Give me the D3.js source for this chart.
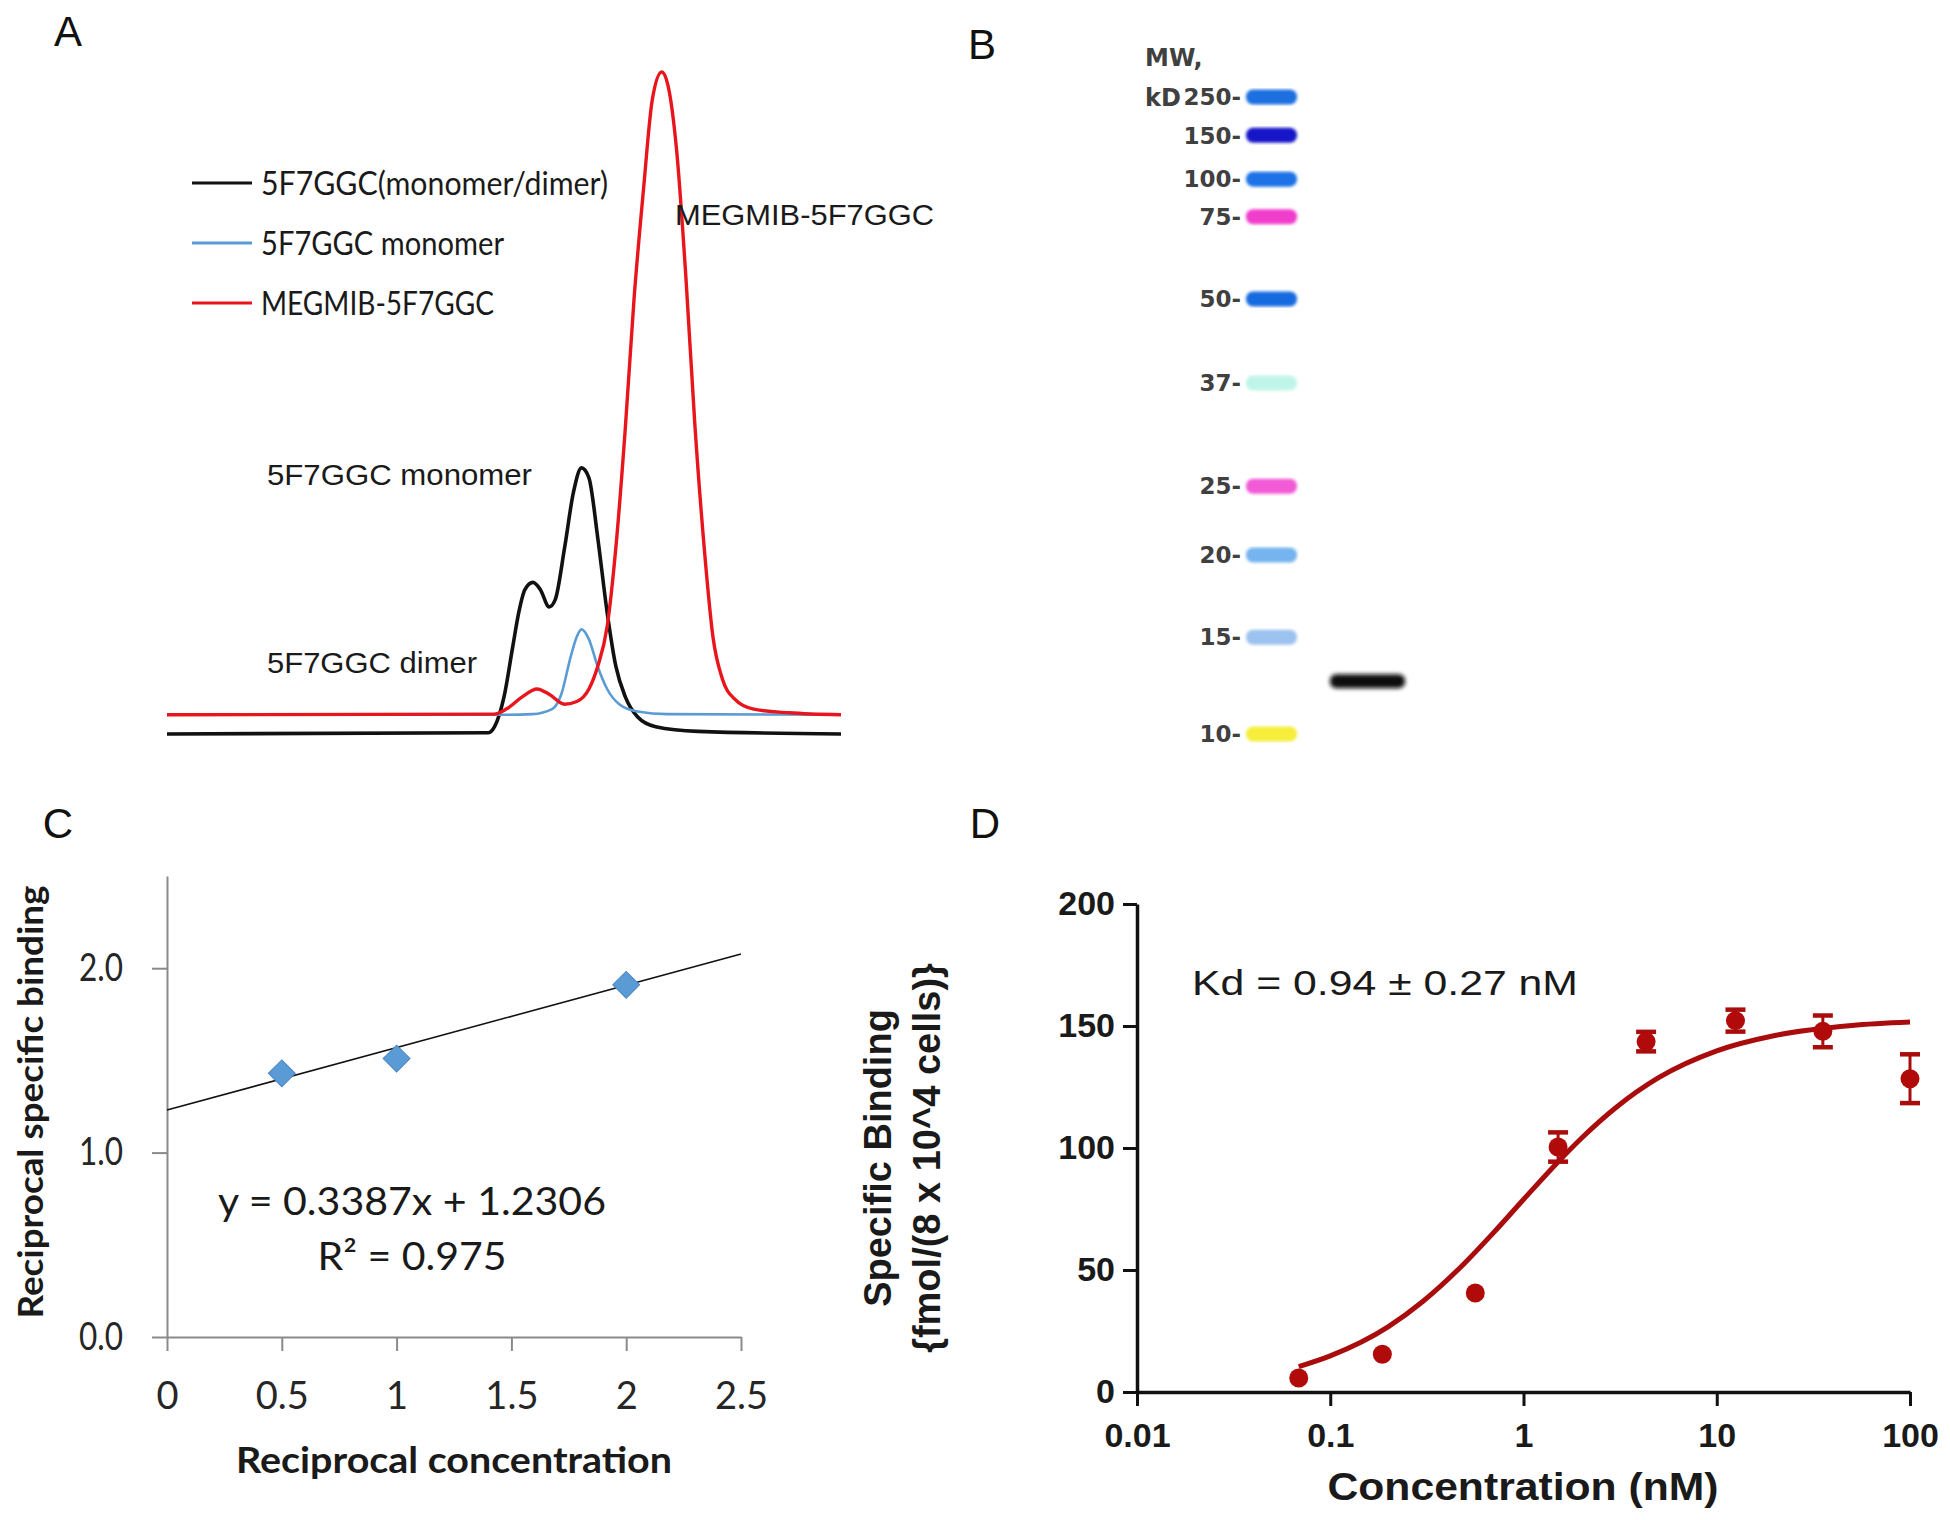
<!DOCTYPE html>
<html><head><meta charset="utf-8">
<script src="https://cdn.jsdelivr.net/npm/d3@7"></script>
<style>body{margin:0;background:#fff} svg{display:block}</style>
</head><body>
<svg id="c" width="1950" height="1520"></svg>
<script>
// ---------- Panel A: chromatogram traces (relative units) ----------
const blackX = [0, 47.7, 48.6, 50.0, 51.3, 52.2, 53.1, 54.3, 55.4, 56.7, 57.6, 59.0, 60.3, 61.5, 62.6, 63.9, 65.3, 66.6, 68.0, 69.8, 72.5, 78.8, 100];
const blackY = [0, 0.2, 1.1, 5.6, 13.2, 18.4, 21.8, 22.9, 21.8, 19.2, 20.3, 28.2, 36.5, 40.2, 38.7, 29.7, 18.4, 10.2, 5.6, 2.6, 1.1, 0.4, 0];
const blueX = [0, 50.0, 54.2, 57.2, 58.5, 59.9, 60.8, 61.5, 62.6, 63.9, 65.3, 67.1, 69.8, 74.3, 100];
const blueY = [2.9, 2.9, 3.0, 3.8, 6.0, 11.7, 14.7, 15.8, 14.3, 10.2, 6.8, 4.5, 3.4, 3.0, 2.9];
const redX = [0, 48.5, 50.4, 52.7, 54.9, 56.7, 59.0, 60.8, 62.6, 63.9, 65.3, 66.6, 68.0, 69.3, 70.7, 72.0, 73.4, 74.3, 75.6, 77.0, 78.3, 79.7, 81.0, 82.4, 84.2, 86.9, 92.3, 100];
const redY = [2.9, 3.0, 3.8, 5.6, 6.8, 6.0, 4.5, 4.9, 6.8, 10.2, 16.2, 28.2, 46.2, 65.8, 82.3, 95.8, 100, 98.1, 88.3, 68.8, 47.0, 28.2, 14.7, 8.3, 5.3, 3.8, 3.2, 2.9];
const legendLabels = ["5F7GGC(monomer/dimer)", "5F7GGC monomer", "MEGMIB-5F7GGC"];
const annotLabels = ["MEGMIB-5F7GGC", "5F7GGC monomer", "5F7GGC dimer"];

// ---------- Panel B: SDS-PAGE ladder ----------
const ladderMW = ["250", "150", "100", "75", "50", "37", "25", "20", "15", "10"];
const ladderRf = [0.00, 0.060, 0.129, 0.188, 0.317, 0.449, 0.611, 0.719, 0.848, 1.00];
const ladderColors = ["#1f6fe0", "#1414c8", "#1a72e6", "#f03ccc", "#176ae0", "#bff5e8", "#f25ad6", "#74b4ee", "#9cc2f0", "#f6ee3a"];
const sampleRf = [0.917];

// ---------- Panel C: double reciprocal plot ----------
const recipConc = [0.5, 1, 2];
const recipBinding = [1.43, 1.51, 1.91];
const trendX = [0, 2.5];
const trendY = [1.2306, 2.0774];
const cXTicks = [0, 0.5, 1, 1.5, 2, 2.5];
const cYTicks = [0, 1, 2];

// ---------- Panel D: saturation binding ----------
const concD = [0.0687, 0.186, 0.563, 1.51, 4.31, 12.5, 35.4, 100];
const bindD = [5.7, 15.5, 40.6, 100.4, 143.6, 152.2, 147.8, 128.4];
const semD = [0, 0, 0, 6, 4, 4.5, 6.5, 10];
const fitX = [0.0687, 0.1, 0.2, 0.3, 0.5, 0.7, 1, 1.5, 2, 3, 5, 10, 20, 50, 100];
const fitY = [10.4, 14.8, 26.8, 37.0, 53.1, 65.3, 78.9, 94.1, 104.1, 116.5, 128.8, 139.8, 146.1, 150.2, 151.6];
const dXTicks = [0.01, 0.1, 1, 10, 100];
const dXTickLabels = ["0.01", "0.1", "1", "10", "100"];
const dYTicks = [0, 50, 100, 150, 200];

const svg = d3.select("#c");
const ARIAL = "'Liberation Sans', Arial, sans-serif";
const CALIBRI = "Lato, 'Open Sans', sans-serif";

// Panel letters
const letters = [["A", 68, 46], ["B", 982, 59], ["C", 58, 838], ["D", 985, 838]];
svg.selectAll("text.plabel").data(letters).join("text")
  .attr("class", "plabel").attr("x", d => d[1]).attr("y", d => d[2])
  .attr("text-anchor", "middle").attr("font-family", ARIAL).attr("font-size", 42)
  .attr("fill", "#111").text(d => d[0]);

// ================= Panel A =================
(function(){
  const x = d3.scaleLinear().domain([0, 100]).range([167, 841]);
  const y = d3.scaleLinear().domain([0, 100]).range([734, 72]);
  const line = d3.line().x(d => x(d[0])).y(d => y(d[1])).curve(d3.curveMonotoneX);
  const g = svg.append("g");
  const series = [
    {xs: blackX, ys: blackY, color: "#111", w: 3.6},
    {xs: blueX, ys: blueY, color: "#5b9bd5", w: 2.6},
    {xs: redX, ys: redY, color: "#e8151c", w: 3.4}
  ];
  series.forEach(s => {
    g.append("path").datum(s.xs.map((v, i) => [v, s.ys[i]]))
      .attr("d", line).attr("fill", "none").attr("stroke", s.color)
      .attr("stroke-width", s.w).attr("stroke-linejoin", "round");
  });
  // legend
  const legColors = ["#111", "#5b9bd5", "#e8151c"];
  const legLen = [347, 243, 233];
  const ly = d3.scalePoint().domain(legendLabels).range([183, 303]);
  const lg = g.append("g");
  legendLabels.forEach((lab, i) => {
    lg.append("line").attr("x1", 192).attr("x2", 252).attr("y1", ly(lab)).attr("y2", ly(lab))
      .attr("stroke", legColors[i]).attr("stroke-width", 3);
    lg.append("text").attr("x", 261).attr("y", ly(lab)).attr("dy", "0.36em")
      .attr("font-family", CALIBRI).attr("font-size", 32).attr("fill", "#1a1a1a")
      .attr("textLength", legLen[i]).attr("lengthAdjust", "spacingAndGlyphs").text(lab);
  });
  // annotations
  const annPos = [[675, 214], [267, 474], [267, 662]];
  const annLen = [259, 265, 210];
  annotLabels.forEach((lab, i) => {
    g.append("text").attr("x", annPos[i][0]).attr("y", annPos[i][1]).attr("dy", "0.36em")
      .attr("font-family", ARIAL).attr("font-size", 30).attr("fill", "#1a1a1a")
      .attr("textLength", annLen[i]).attr("lengthAdjust", "spacingAndGlyphs").text(lab);
  });
})();

// ================= Panel B =================
(function(){
  const y = d3.scaleLinear().domain([0, 1]).range([97, 734]);
  const defs = svg.append("defs");
  defs.append("filter").attr("id", "blurB").append("feGaussianBlur").attr("stdDeviation", 1.6);
  defs.append("filter").attr("id", "blurS").attr("x", "-20%").attr("y", "-80%").attr("width", "140%").attr("height", "260%")
    .append("feGaussianBlur").attr("stdDeviation", 2.2);
  const g = svg.append("g");
  g.selectAll("rect.band").data(ladderMW).join("rect").attr("class", "band")
    .attr("x", 1246).attr("width", 51)
    .attr("y", (d, i) => y(ladderRf[i]) - 7.5).attr("height", 15).attr("rx", 7)
    .attr("fill", (d, i) => ladderColors[i]).attr("filter", "url(#blurB)");
  const bfont = "'DejaVu Sans', Verdana, sans-serif";
  g.selectAll("text.mw").data(ladderMW).join("text").attr("class", "mw")
    .attr("x", 1241).attr("y", (d, i) => y(ladderRf[i])).attr("dy", "0.36em")
    .attr("text-anchor", "end").attr("font-family", bfont)
    .attr("font-weight", "bold").attr("font-size", 23).attr("fill", "#404040").text(d => d + "-");
  g.append("text").attr("x", 1145).attr("y", 57).attr("dy", "0.36em")
    .attr("font-family", bfont).attr("font-weight", "bold")
    .attr("font-size", 24).attr("fill", "#404040").text("MW,");
  g.append("text").attr("x", 1145).attr("y", y(ladderRf[0])).attr("dy", "0.36em")
    .attr("font-family", bfont).attr("font-weight", "bold")
    .attr("font-size", 24).attr("fill", "#404040").text("kD");
  g.selectAll("rect.sample").data(sampleRf).join("rect").attr("class", "sample")
    .attr("x", 1330).attr("width", 75).attr("y", d => y(d) - 7).attr("height", 14).attr("rx", 6)
    .attr("fill", "#111").attr("filter", "url(#blurS)");
})();

// ================= Panel C =================
(function(){
  const x = d3.scaleLinear().domain([0, 2.5]).range([167, 741]);
  const y = d3.scaleLinear().domain([0, 2.5]).range([1337, 876]);
  const g = svg.append("g");
  const axisColor = "#8a8a8a";
  const xa = g.append("g").attr("transform", `translate(0,${y(0)})`)
    .call(d3.axisBottom(x).tickValues(cXTicks).tickSize(14).tickSizeOuter(0).tickPadding(31).tickFormat(d => String(d)));
  const ya = g.append("g").attr("transform", `translate(${x(0)},0)`)
    .call(d3.axisLeft(y).tickValues(cYTicks).tickSize(15).tickSizeOuter(0).tickPadding(29).tickFormat(d3.format(".1f")));
  [xa, ya].forEach(a => {
    a.select(".domain").attr("stroke", axisColor).attr("stroke-width", 2);
    a.selectAll(".tick line").attr("stroke", axisColor).attr("stroke-width", 2);
    a.selectAll(".tick text").attr("font-family", CALIBRI).attr("font-size", 38).attr("fill", "#262626");
  });
  ya.selectAll(".tick text").attr("textLength", 44).attr("lengthAdjust", "spacingAndGlyphs");
  // trendline
  g.append("line").attr("x1", x(trendX[0])).attr("y1", y(trendY[0]))
    .attr("x2", x(trendX[1])).attr("y2", y(trendY[1])).attr("stroke", "#111").attr("stroke-width", 1.6);
  // diamonds
  g.selectAll("path.pt").data(recipConc).join("path").attr("class", "pt")
    .attr("d", d3.symbol(d3.symbolSquare, 360))
    .attr("transform", (d, i) => `translate(${x(d)},${y(recipBinding[i])}) rotate(45)`)
    .attr("fill", "#5b9bd5").attr("stroke", "#4a86c5").attr("stroke-width", 1);
  // equation
  g.append("text").attr("x", 412).attr("y", 1201).attr("dy", "0.36em").attr("text-anchor", "middle")
    .attr("font-family", CALIBRI).attr("font-size", 39).attr("fill", "#1a1a1a")
    .attr("textLength", 388).attr("lengthAdjust", "spacingAndGlyphs").text("y = 0.3387x + 1.2306");
  g.append("text").attr("x", 412).attr("y", 1256).attr("dy", "0.36em").attr("text-anchor", "middle")
    .attr("font-family", CALIBRI).attr("font-size", 39).attr("fill", "#1a1a1a")
    .attr("textLength", 189).attr("lengthAdjust", "spacingAndGlyphs").text("R² = 0.975");
  // titles
  g.append("text").attr("x", 454).attr("y", 1473).attr("text-anchor", "middle")
    .attr("font-family", CALIBRI).attr("font-weight", "bold").attr("font-size", 36).attr("fill", "#1a1a1a")
    .attr("textLength", 436).attr("lengthAdjust", "spacingAndGlyphs").text("Reciprocal concentration");
  g.append("text").attr("transform", "translate(30,1102) rotate(-90)").attr("dy", "0.36em")
    .attr("text-anchor", "middle").attr("font-family", CALIBRI).attr("font-weight", "bold")
    .attr("font-size", 35).attr("fill", "#1a1a1a")
    .attr("textLength", 433).attr("lengthAdjust", "spacingAndGlyphs").text("Reciprocal specific binding");
})();

// ================= Panel D =================
(function(){
  const x = d3.scaleLog().domain([0.01, 100]).range([1137, 1910]);
  const y = d3.scaleLinear().domain([0, 200]).range([1392, 904]);
  const g = svg.append("g");
  const xa = g.append("g").attr("transform", `translate(0,${y(0)})`)
    .call(d3.axisBottom(x).tickValues(dXTicks).tickSize(14).tickSizeOuter(0).tickPadding(17)
      .tickFormat((d, i) => dXTickLabels[i]));
  const ya = g.append("g").attr("transform", `translate(${x(0.01)},0)`)
    .call(d3.axisLeft(y).tickValues(dYTicks).tickSize(14).tickSizeOuter(0).tickPadding(8));
  [xa, ya].forEach(a => {
    a.select(".domain").attr("stroke", "#111").attr("stroke-width", 3.5);
    a.selectAll(".tick line").attr("stroke", "#111").attr("stroke-width", 3);
    a.selectAll(".tick text").attr("font-family", ARIAL).attr("font-weight", "bold")
      .attr("font-size", 34).attr("fill", "#1a1a1a");
  });
  const red = "#a80c0c";
  const line = d3.line().x(d => x(d[0])).y(d => y(d[1])).curve(d3.curveMonotoneX);
  g.append("path").datum(fitX.map((v, i) => [v, fitY[i]])).attr("d", line)
    .attr("fill", "none").attr("stroke", red).attr("stroke-width", 5);
  // error bars
  const eb = g.selectAll("g.eb").data(concD.map((c, i) => ({c, v: bindD[i], e: semD[i]})).filter(d => d.e > 0))
    .join("g").attr("class", "eb");
  eb.append("line").attr("x1", d => x(d.c)).attr("x2", d => x(d.c))
    .attr("y1", d => y(d.v - d.e)).attr("y2", d => y(d.v + d.e)).attr("stroke", red).attr("stroke-width", 3);
  eb.append("line").attr("x1", d => x(d.c) - 10).attr("x2", d => x(d.c) + 10)
    .attr("y1", d => y(d.v + d.e)).attr("y2", d => y(d.v + d.e)).attr("stroke", red).attr("stroke-width", 4.5);
  eb.append("line").attr("x1", d => x(d.c) - 10).attr("x2", d => x(d.c) + 10)
    .attr("y1", d => y(d.v - d.e)).attr("y2", d => y(d.v - d.e)).attr("stroke", red).attr("stroke-width", 4.5);
  g.selectAll("circle.pt").data(concD).join("circle").attr("class", "pt")
    .attr("cx", d => x(d)).attr("cy", (d, i) => y(bindD[i])).attr("r", 9.5).attr("fill", "#b00a0a");
  // Kd text
  g.append("text").attr("x", 1192).attr("y", 982).attr("dy", "0.36em")
    .attr("font-family", ARIAL).attr("font-size", 35).attr("fill", "#1a1a1a")
    .attr("textLength", 386).attr("lengthAdjust", "spacingAndGlyphs").text("Kd = 0.94 ± 0.27 nM");
  // titles
  g.append("text").attr("x", 1523).attr("y", 1500).attr("text-anchor", "middle")
    .attr("font-family", ARIAL).attr("font-weight", "bold").attr("font-size", 38).attr("fill", "#1a1a1a")
    .attr("textLength", 391).attr("lengthAdjust", "spacingAndGlyphs").text("Concentration (nM)");
  g.append("text").attr("transform", "translate(877,1158) rotate(-90)").attr("dy", "0.36em")
    .attr("text-anchor", "middle").attr("font-family", ARIAL).attr("font-weight", "bold")
    .attr("font-size", 38).attr("fill", "#1a1a1a").text("Specific Binding");
  g.append("text").attr("transform", "translate(926,1158) rotate(-90)").attr("dy", "0.36em")
    .attr("text-anchor", "middle").attr("font-family", ARIAL).attr("font-weight", "bold")
    .attr("font-size", 38).attr("fill", "#1a1a1a").text("{fmol/(8 x 10^4 cells)}");
})();
</script>
</body></html>
